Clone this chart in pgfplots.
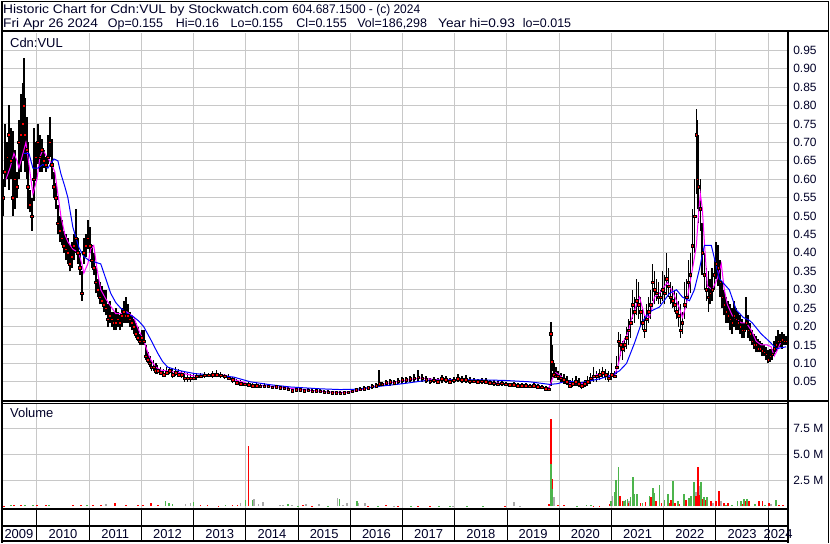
\documentclass[border=0pt]{standalone}
\usepackage{fontspec}
\setmainfont{Liberation Sans}
\usepackage{graphicx}
\usepackage{pgfplots}
\usepackage{pgfplotstable}
\pgfplotsset{compat=1.18}

\definecolor{txt}{RGB}{0,0,40}
\definecolor{gridc}{RGB}{200,200,200}
\definecolor{maline}{RGB}{255,0,255}
\definecolor{vgreen}{RGB}{76,180,76}
\definecolor{vgray}{RGB}{170,170,170}

% daily range (weekly sample): time, low, high, close
\pgfplotstableread{
t lo hi cl
2009.312 0.50 0.60 0.55
2009.350 0.50 0.60 0.55
2009.388 0.58 0.75 0.62
2009.427 0.60 0.70 0.66
2009.465 0.57 0.80 0.72
2009.503 0.60 0.74 0.65
2009.541 0.50 0.73 0.55
2009.579 0.52 0.68 0.60
2009.618 0.55 0.62 0.58
2009.656 0.60 0.76 0.70
2009.694 0.62 0.83 0.72
2009.732 0.65 0.86 0.75
2009.751 0.70 0.93 0.80
2009.770 0.62 0.82 0.72
2009.809 0.60 0.77 0.68
2009.828 0.52 0.70 0.58
2009.866 0.51 0.57 0.53
2009.904 0.46 0.55 0.50
2009.942 0.54 0.74 0.60
2009.981 0.60 0.70 0.66
2010.019 0.64 0.75 0.70
2010.057 0.62 0.72 0.66
2010.095 0.62 0.71 0.68
2010.133 0.63 0.68 0.65
2010.172 0.62 0.66 0.64
2010.210 0.64 0.72 0.66
2010.248 0.66 0.77 0.70
2010.286 0.60 0.71 0.64
2010.324 0.55 0.62 0.58
2010.363 0.52 0.59 0.55
2010.401 0.45 0.53 0.48
2010.439 0.43 0.50 0.46
2010.477 0.42 0.49 0.44
2010.515 0.40 0.46 0.42
2010.554 0.38 0.45 0.41
2010.592 0.37 0.44 0.40
2010.630 0.35 0.42 0.37
2010.668 0.36 0.43 0.39
2010.706 0.38 0.45 0.42
2010.745 0.40 0.52 0.44
2010.783 0.37 0.44 0.40
2010.821 0.34 0.40 0.36
2010.859 0.27 0.35 0.29
2010.897 0.37 0.44 0.40
2010.936 0.39 0.45 0.42
2010.974 0.41 0.49 0.44
2011.012 0.40 0.47 0.42
2011.050 0.36 0.42 0.38
2011.088 0.34 0.40 0.36
2011.127 0.29 0.36 0.32
2011.165 0.28 0.33 0.30
2011.203 0.26 0.32 0.28
2011.241 0.26 0.31 0.27
2011.279 0.24 0.30 0.26
2011.318 0.23 0.30 0.25
2011.356 0.20 0.26 0.22
2011.394 0.21 0.27 0.23
2011.432 0.20 0.24 0.22
2011.470 0.19 0.24 0.21
2011.509 0.19 0.25 0.21
2011.547 0.20 0.24 0.22
2011.585 0.19 0.23 0.21
2011.623 0.20 0.25 0.23
2011.661 0.21 0.27 0.24
2011.700 0.21 0.28 0.23
2011.738 0.21 0.26 0.23
2011.776 0.20 0.24 0.22
2011.814 0.19 0.23 0.21
2011.852 0.18 0.22 0.20
2011.891 0.17 0.21 0.18
2011.929 0.16 0.20 0.17
2011.967 0.15 0.18 0.16
2012.005 0.15 0.19 0.17
2012.043 0.15 0.19 0.16
2012.082 0.11 0.15 0.12
2012.120 0.10 0.13 0.11
2012.158 0.09 0.12 0.10
2012.196 0.08 0.11 0.09
2012.234 0.08 0.11 0.09
2012.273 0.07 0.10 0.08
2012.311 0.07 0.095 0.08
2012.368 0.07 0.09 0.075
2012.425 0.065 0.085 0.07
2012.483 0.07 0.09 0.075
2012.540 0.07 0.09 0.08
2012.597 0.06 0.085 0.07
2012.655 0.065 0.09 0.075
2012.712 0.065 0.085 0.07
2012.769 0.06 0.08 0.07
2012.826 0.05 0.08 0.06
2012.884 0.05 0.075 0.06
2012.941 0.05 0.07 0.06
2012.998 0.055 0.07 0.06
2013.056 0.055 0.075 0.065
2013.132 0.06 0.075 0.065
2013.208 0.06 0.077 0.068
2013.285 0.062 0.075 0.068
2013.361 0.06 0.08 0.07
2013.438 0.062 0.082 0.07
2013.514 0.06 0.078 0.068
2013.590 0.058 0.072 0.065
2013.667 0.055 0.07 0.06
2013.743 0.048 0.062 0.055
2013.820 0.042 0.058 0.048
2013.896 0.04 0.055 0.045
2013.972 0.038 0.05 0.044
2014.049 0.035 0.05 0.042
2014.125 0.035 0.048 0.04
2014.202 0.035 0.046 0.04
2014.278 0.033 0.045 0.038
2014.354 0.032 0.046 0.038
2014.431 0.034 0.044 0.038
2014.507 0.03 0.04 0.035
2014.584 0.03 0.042 0.036
2014.660 0.028 0.04 0.034
2014.736 0.028 0.04 0.033
2014.813 0.026 0.036 0.03
2014.889 0.022 0.032 0.026
2014.966 0.022 0.034 0.028
2015.042 0.024 0.034 0.028
2015.118 0.022 0.03 0.026
2015.195 0.024 0.032 0.027
2015.271 0.02 0.03 0.025
2015.348 0.022 0.03 0.026
2015.424 0.02 0.03 0.024
2015.500 0.018 0.028 0.022
2015.577 0.018 0.028 0.022
2015.653 0.017 0.026 0.02
2015.730 0.016 0.026 0.02
2015.806 0.015 0.024 0.019
2015.882 0.016 0.025 0.02
2015.959 0.018 0.026 0.022
2016.035 0.02 0.03 0.025
2016.112 0.022 0.034 0.028
2016.188 0.025 0.036 0.03
2016.264 0.026 0.038 0.032
2016.341 0.028 0.04 0.034
2016.417 0.03 0.045 0.038
2016.494 0.032 0.048 0.04
2016.551 0.035 0.082 0.045
2016.608 0.038 0.05 0.044
2016.685 0.04 0.056 0.048
2016.761 0.04 0.058 0.05
2016.837 0.042 0.056 0.048
2016.914 0.044 0.06 0.052
2016.990 0.045 0.062 0.055
2017.067 0.046 0.064 0.056
2017.143 0.05 0.066 0.058
2017.219 0.05 0.07 0.06
2017.296 0.05 0.082 0.062
2017.372 0.05 0.072 0.06
2017.449 0.048 0.066 0.056
2017.525 0.045 0.06 0.052
2017.601 0.046 0.064 0.054
2017.678 0.044 0.06 0.05
2017.754 0.046 0.068 0.058
2017.831 0.048 0.066 0.056
2017.907 0.044 0.06 0.05
2017.983 0.046 0.064 0.054
2018.060 0.05 0.07 0.058
2018.136 0.046 0.066 0.055
2018.213 0.048 0.068 0.056
2018.289 0.045 0.062 0.052
2018.365 0.046 0.06 0.052
2018.442 0.044 0.058 0.05
2018.518 0.045 0.06 0.052
2018.595 0.044 0.06 0.05
2018.671 0.042 0.056 0.048
2018.747 0.04 0.054 0.046
2018.824 0.038 0.052 0.044
2018.900 0.04 0.056 0.046
2018.977 0.038 0.05 0.043
2019.053 0.036 0.048 0.042
2019.129 0.036 0.05 0.042
2019.206 0.034 0.046 0.04
2019.282 0.035 0.048 0.04
2019.359 0.034 0.046 0.039
2019.435 0.033 0.045 0.038
2019.511 0.034 0.046 0.04
2019.588 0.032 0.044 0.037
2019.664 0.03 0.042 0.035
2019.741 0.028 0.04 0.032
2019.798 0.025 0.036 0.03
2019.836 0.04 0.213 0.18
2019.855 0.08 0.15 0.105
2019.893 0.06 0.10 0.07
2019.932 0.06 0.09 0.065
2019.970 0.055 0.08 0.065
2020.027 0.05 0.075 0.06
2020.084 0.045 0.07 0.055
2020.142 0.042 0.065 0.05
2020.199 0.035 0.055 0.04
2020.256 0.035 0.06 0.045
2020.314 0.04 0.065 0.05
2020.371 0.035 0.06 0.045
2020.428 0.03 0.05 0.04
2020.486 0.035 0.055 0.045
2020.543 0.04 0.065 0.05
2020.600 0.045 0.075 0.06
2020.657 0.05 0.09 0.065
2020.715 0.05 0.08 0.065
2020.772 0.055 0.085 0.07
2020.829 0.06 0.09 0.075
2020.887 0.055 0.085 0.07
2020.944 0.05 0.08 0.06
2021.001 0.055 0.10 0.07
2021.059 0.06 0.08 0.065
2021.097 0.07 0.12 0.09
2021.135 0.10 0.185 0.16
2021.173 0.12 0.18 0.15
2021.211 0.11 0.16 0.14
2021.250 0.13 0.17 0.15
2021.288 0.14 0.20 0.17
2021.326 0.15 0.22 0.19
2021.364 0.17 0.25 0.21
2021.402 0.22 0.30 0.26
2021.441 0.21 0.28 0.24
2021.479 0.23 0.33 0.27
2021.517 0.22 0.32 0.26
2021.555 0.20 0.28 0.24
2021.593 0.19 0.25 0.21
2021.632 0.17 0.23 0.19
2021.670 0.19 0.26 0.22
2021.708 0.21 0.28 0.24
2021.746 0.22 0.30 0.26
2021.784 0.27 0.37 0.32
2021.823 0.26 0.35 0.30
2021.861 0.27 0.33 0.29
2021.899 0.26 0.32 0.28
2021.937 0.26 0.30 0.28
2021.975 0.27 0.35 0.30
2022.014 0.26 0.34 0.29
2022.052 0.29 0.40 0.33
2022.090 0.28 0.36 0.31
2022.128 0.26 0.32 0.28
2022.166 0.25 0.31 0.27
2022.205 0.24 0.30 0.26
2022.243 0.22 0.29 0.24
2022.281 0.20 0.27 0.23
2022.319 0.17 0.26 0.19
2022.357 0.18 0.24 0.21
2022.396 0.22 0.32 0.26
2022.434 0.25 0.33 0.28
2022.472 0.28 0.38 0.32
2022.510 0.29 0.40 0.34
2022.548 0.36 0.52 0.42
2022.587 0.40 0.60 0.50
2022.625 0.56 0.79 0.72
2022.644 0.52 0.76 0.60
2022.663 0.48 0.72 0.58
2022.701 0.46 0.60 0.52
2022.739 0.34 0.48 0.40
2022.778 0.30 0.40 0.34
2022.816 0.27 0.36 0.30
2022.854 0.24 0.35 0.28
2022.892 0.26 0.33 0.29
2022.930 0.27 0.36 0.30
2022.969 0.30 0.38 0.34
2023.007 0.33 0.43 0.37
2023.045 0.31 0.42 0.36
2023.083 0.28 0.38 0.32
2023.121 0.25 0.32 0.28
2023.160 0.23 0.30 0.26
2023.198 0.21 0.28 0.24
2023.236 0.21 0.27 0.23
2023.274 0.19 0.26 0.22
2023.312 0.18 0.25 0.21
2023.351 0.20 0.27 0.23
2023.389 0.19 0.25 0.22
2023.427 0.19 0.24 0.21
2023.465 0.18 0.23 0.20
2023.503 0.17 0.22 0.19
2023.542 0.17 0.21 0.19
2023.580 0.19 0.28 0.21
2023.618 0.17 0.23 0.19
2023.656 0.16 0.21 0.18
2023.694 0.15 0.19 0.16
2023.733 0.14 0.18 0.15
2023.771 0.13 0.175 0.15
2023.809 0.13 0.165 0.14
2023.847 0.13 0.16 0.14
2023.885 0.12 0.155 0.135
2023.924 0.12 0.15 0.13
2023.962 0.11 0.145 0.125
2024.000 0.10 0.135 0.11
2024.038 0.105 0.14 0.12
2024.076 0.11 0.14 0.125
2024.115 0.12 0.16 0.14
2024.153 0.13 0.175 0.15
2024.191 0.14 0.19 0.16
2024.229 0.145 0.18 0.16
2024.267 0.14 0.185 0.165
2024.306 0.15 0.18 0.16
2024.344 0.15 0.175 0.16
}\price

% short moving average (magenta)
\pgfplotstableread{
t v
2009.408 0.60
2009.484 0.63
2009.560 0.67
2009.618 0.65
2009.656 0.63
2009.713 0.66
2009.789 0.70
2009.847 0.64
2009.923 0.56
2010.000 0.60
2010.057 0.66
2010.114 0.68
2010.191 0.66
2010.267 0.645
2010.343 0.62
2010.401 0.56
2010.458 0.50
2010.534 0.45
2010.592 0.43
2010.687 0.41
2010.802 0.40
2010.859 0.37
2010.897 0.345
2010.974 0.37
2011.031 0.41
2011.088 0.42
2011.146 0.36
2011.222 0.30
2011.318 0.275
2011.413 0.255
2011.509 0.235
2011.604 0.235
2011.719 0.24
2011.852 0.226
2011.948 0.19
2012.043 0.163
2012.120 0.13
2012.177 0.11
2012.273 0.09
2012.368 0.082
2012.559 0.078
2012.750 0.075
2012.998 0.066
2013.323 0.07
2013.609 0.068
2013.800 0.055
2014.087 0.043
2014.469 0.038
2014.851 0.032
2015.233 0.027
2015.615 0.022
2015.901 0.021
2016.188 0.028
2016.570 0.042
2016.952 0.052
2017.334 0.06
2017.716 0.055
2018.098 0.055
2018.480 0.052
2018.862 0.046
2019.244 0.041
2019.625 0.037
2019.798 0.032
2019.874 0.06
2019.931 0.075
2020.008 0.068
2020.103 0.055
2020.199 0.045
2020.351 0.045
2020.485 0.045
2020.619 0.055
2020.715 0.07
2020.829 0.07
2020.963 0.065
2021.059 0.065
2021.135 0.10
2021.211 0.155
2021.306 0.18
2021.383 0.22
2021.479 0.26
2021.536 0.28
2021.632 0.23
2021.727 0.225
2021.823 0.28
2021.918 0.29
2022.071 0.32
2022.185 0.29
2022.300 0.25
2022.357 0.225
2022.434 0.26
2022.491 0.31
2022.567 0.37
2022.625 0.42
2022.663 0.50
2022.701 0.56
2022.739 0.52
2022.778 0.43
2022.835 0.31
2022.930 0.30
2023.026 0.33
2023.102 0.37
2023.160 0.30
2023.217 0.26
2023.312 0.23
2023.389 0.22
2023.484 0.21
2023.580 0.21
2023.675 0.19
2023.771 0.16
2023.866 0.15
2023.981 0.15
2024.057 0.145
2024.115 0.12
2024.172 0.135
2024.248 0.16
2024.344 0.16
}\mashort

% long moving average (blue)
\pgfplotstableread{
t v
2009.751 0.67
2009.847 0.67
2009.923 0.63
2010.019 0.63
2010.114 0.64
2010.210 0.63
2010.324 0.655
2010.401 0.65
2010.458 0.615
2010.534 0.58
2010.592 0.55
2010.687 0.47
2010.802 0.415
2010.897 0.39
2010.993 0.38
2011.107 0.375
2011.222 0.37
2011.318 0.33
2011.413 0.29
2011.509 0.265
2011.604 0.25
2011.738 0.235
2011.852 0.226
2011.948 0.215
2012.043 0.20
2012.177 0.165
2012.311 0.128
2012.406 0.105
2012.502 0.09
2012.655 0.083
2012.845 0.077
2013.036 0.072
2013.323 0.069
2013.762 0.063
2014.087 0.05
2014.469 0.042
2014.851 0.036
2015.424 0.031
2015.806 0.029
2016.131 0.03
2016.570 0.038
2017.009 0.045
2017.467 0.054
2018.098 0.056
2018.919 0.054
2019.435 0.05
2019.817 0.043
2019.970 0.045
2020.142 0.053
2020.390 0.047
2020.772 0.058
2021.020 0.069
2021.154 0.08
2021.288 0.10
2021.440 0.155
2021.574 0.21
2021.727 0.24
2021.918 0.253
2022.109 0.29
2022.243 0.30
2022.357 0.28
2022.491 0.27
2022.587 0.30
2022.682 0.355
2022.778 0.42
2022.911 0.42
2023.064 0.33
2023.255 0.30
2023.389 0.245
2023.522 0.225
2023.637 0.217
2023.694 0.21
2023.866 0.18
2024.019 0.16
2024.153 0.14
2024.267 0.143
2024.344 0.145
}\malong

% volume in millions, by day colour
\pgfplotstableread{
t v
2009.369 0.05
2009.560 0.10
2009.694 0.10
2010.000 0.08
2010.172 0.06
2010.687 0.06
2010.840 0.12
2011.069 0.15
2011.222 0.12
2011.489 0.30
2011.700 0.10
2011.929 0.10
2012.024 0.15
2012.177 0.25
2012.311 0.10
2013.132 0.08
2013.265 0.08
2013.475 0.05
2013.743 0.10
2013.838 0.15
2014.049 5.80
2015.099 0.12
2015.265 0.05
2016.341 0.05
2016.678 0.13
2016.914 0.05
2017.301 0.03
2017.525 0.05
2018.957 0.05
2019.798 0.22
2019.836 8.40
2019.864 2.60
2019.970 0.12
2020.084 0.10
2020.657 0.05
2020.772 0.03
2020.963 0.22
2020.995 0.28
2021.077 1.70
2021.167 0.93
2021.211 0.45
2021.326 0.30
2021.411 1.10
2021.479 0.60
2021.555 0.30
2021.651 0.42
2021.759 0.90
2021.793 0.93
2021.854 0.45
2021.956 0.30
2022.109 0.30
2022.141 0.60
2022.175 0.93
2022.223 0.30
2022.300 0.22
2022.427 0.60
2022.529 0.45
2022.625 0.93
2022.663 3.72
2022.692 1.10
2022.745 0.67
2022.816 0.60
2022.905 0.51
2023.001 0.45
2023.064 1.50
2023.160 0.30
2023.236 0.30
2023.503 0.20
2023.580 0.50
2023.637 0.50
2023.828 0.45
2023.891 0.45
2024.019 0.30
2024.210 0.13
2024.286 0.13
}\volred

\pgfplotstableread{
t v
2009.503 0.13
2009.770 0.10
2009.923 0.15
2010.229 0.08
2010.955 0.13
2012.463 0.50
2012.521 0.25
2012.597 0.20
2012.998 0.42
2013.609 0.15
2013.991 0.60
2014.125 0.60
2014.813 0.22
2015.003 0.05
2015.577 0.05
2015.792 0.70
2016.125 0.51
2016.526 0.05
2017.156 0.05
2017.697 0.05
2017.907 0.03
2018.226 0.03
2018.543 0.05
2019.836 4.10
2019.864 1.60
2020.332 0.05
2020.523 0.13
2020.600 0.13
2020.995 0.45
2021.059 1.40
2021.090 2.50
2021.135 3.80
2021.239 0.45
2021.268 0.60
2021.306 0.70
2021.364 0.83
2021.407 2.85
2021.440 1.20
2021.488 1.20
2021.593 0.30
2021.727 0.93
2021.790 1.73
2021.822 1.25
2021.918 2.00
2022.014 0.55
2022.076 1.20
2022.171 2.40
2022.267 0.45
2022.395 1.20
2022.477 0.77
2022.523 0.93
2022.586 2.28
2022.714 2.34
2022.777 0.87
2022.834 0.87
2023.198 0.13
2023.312 0.13
2023.413 0.45
2023.478 0.45
2023.542 0.70
2023.589 0.70
2023.751 0.22
2023.942 0.15
2024.146 0.60
}\volgreen

\pgfplotstableread{
t v
2011.317 0.22
2012.845 0.20
2012.941 0.30
2013.896 0.25
2014.163 0.70
2014.240 0.20
2014.335 0.38
2014.660 0.10
2014.717 0.13
2014.889 0.08
2015.150 0.22
2015.405 0.22
2015.754 0.80
2015.857 0.13
2015.934 0.32
2016.155 0.29
2016.283 0.32
2016.837 0.03
2017.964 0.03
2019.129 0.42
2019.244 0.05
2019.893 0.90
2021.020 0.93
2021.335 0.45
2022.618 1.40
2022.682 1.90
2022.936 0.30
2023.096 0.50
2024.057 0.20
}\volgray

\pgfplotsset{
  panel/.style={
    scale only axis, width=788pt,
    xmin=2009.331, xmax=2024.381,
    axis line style={draw=none}, major tick length=0pt,
    xtick={2010,...,2024}, xticklabels={},
    grid=major, grid style={gridc, line width=1pt},
    yticklabel pos=right,
    yticklabel style={anchor=west, inner sep=0pt, xshift=5pt,
      font=\fontsize{12}{14}\selectfont, text=txt},
  }
}

\begin{document}
\begin{tikzpicture}
\fill[white] (0pt,0pt) rectangle (830pt,543pt);

% price panel
\begin{axis}[panel, at={(1pt,141.5pt)}, anchor=south west, height=369.5pt,
  ymin=-0.0035, ymax=0.997,
  ytick={0.05,0.10,0.15,0.20,0.25,0.30,0.35,0.40,0.45,0.50,0.55,0.60,0.65,0.70,0.75,0.80,0.85,0.90,0.95},
  yticklabels={0.05,0.10,0.15,0.20,0.25,0.30,0.35,0.40,0.45,0.50,0.55,0.60,0.65,0.70,0.75,0.80,0.85,0.90,0.95}]
  \addplot[draw=none, mark=none, forget plot,
    error bars/.cd, y dir=plus, y explicit, error mark=none,
    error bar style={draw=black, line width=1.7pt}]
    table[x=t, y=lo, y error expr=\thisrow{hi}-\thisrow{lo}] {\price};
  \addplot[only marks, mark=square*, mark size=1.3pt,
    mark options={draw=none, fill=red}] table[x=t, y=cl] {\price};
  \addplot[maline, line width=1pt] table[x=t, y=v] {\mashort};
  \addplot[blue, line width=1pt] table[x=t, y=v] {\malong};
\end{axis}

% volume panel
\begin{axis}[panel, at={(1pt,34.5pt)}, anchor=south west, height=105pt,
  ymin=-0.21, ymax=9.88,
  ytick={2.5,5,7.5}, yticklabels={2.5 M,5.0 M,7.5 M}]
  \addplot[ycomb, vgray, line width=1.8pt] table[x=t, y=v] {\volgray};
  \addplot[ycomb, red, line width=1.8pt] table[x=t, y=v] {\volred};
  \addplot[ycomb, vgreen, line width=1.8pt] table[x=t, y=v] {\volgreen};
\end{axis}

% frame and panel rules
\begin{scope}[x=1pt, y=1pt]
\draw[line width=2pt] (0,513) -- (830,513);
\draw[line width=1.4pt] (0,142) -- (830,142);
\draw[line width=1.2pt] (0,139.7) -- (789,139.7);
\draw[line width=2pt] (0,34) -- (789,34);
\draw[line width=2pt] (0,17) -- (789,17);
\draw[line width=2pt] (0,1.3) -- (789,1.3);
\draw[line width=2pt] (789,0) -- (789,513);
\draw[line width=2pt] (1,0) -- (1,543);
\draw[line width=1pt] (0,542.5) -- (830,542.5);
\draw[line width=1pt] (829.5,0) -- (829.5,543);
\foreach \k in {0,...,14} \draw[line width=1pt] (36+52.36*\k,1.3) -- ++(0,32.7);

% header, one piece per field, fitted to the widths of the original
\begin{scope}[every node/.style={inner sep=0pt, text=txt, anchor=base west,
    font=\fontsize{12.5}{14}\selectfont}]
\node at (2,530.3) {\resizebox{286pt}{\height}{Historic Chart for Cdn:VUL by Stockwatch.com}};
\node at (292,530.3) {\resizebox{128pt}{\height}{604.687.1500 - (c) 2024}};
\node at (2,516.3) {\resizebox{95pt}{\height}{Fri Apr 26 2024}};
\node at (107,516.3) {Op=0.155};
\node at (175,516.3) {Hi=0.16};
\node at (230,516.3) {Lo=0.155};
\node at (296,516.3) {Cl=0.155};
\node at (357,516.3) {Vol=186,298};
\node at (438,516.3) {\resizebox{77pt}{\height}{Year hi=0.93}};
\node at (523,516.3) {lo=0.015};
\end{scope}

\begin{scope}[every node/.style={inner sep=0pt, text=txt, font=\fontsize{13}{15}\selectfont}]
\node[anchor=base west] at (9,496.3) {Cdn:VUL};
\node[anchor=base west] at (9,125.3) {Volume};
\node[anchor=base] at (18,4) {2009};
\foreach \y [count=\k from 0] in {2010,...,2023}
  \node[anchor=base] at (62.18+52.36*\k,4) {\y};
\node[anchor=base] at (779,4) {2024};
\end{scope}
\end{scope}
\end{tikzpicture}
\end{document}
